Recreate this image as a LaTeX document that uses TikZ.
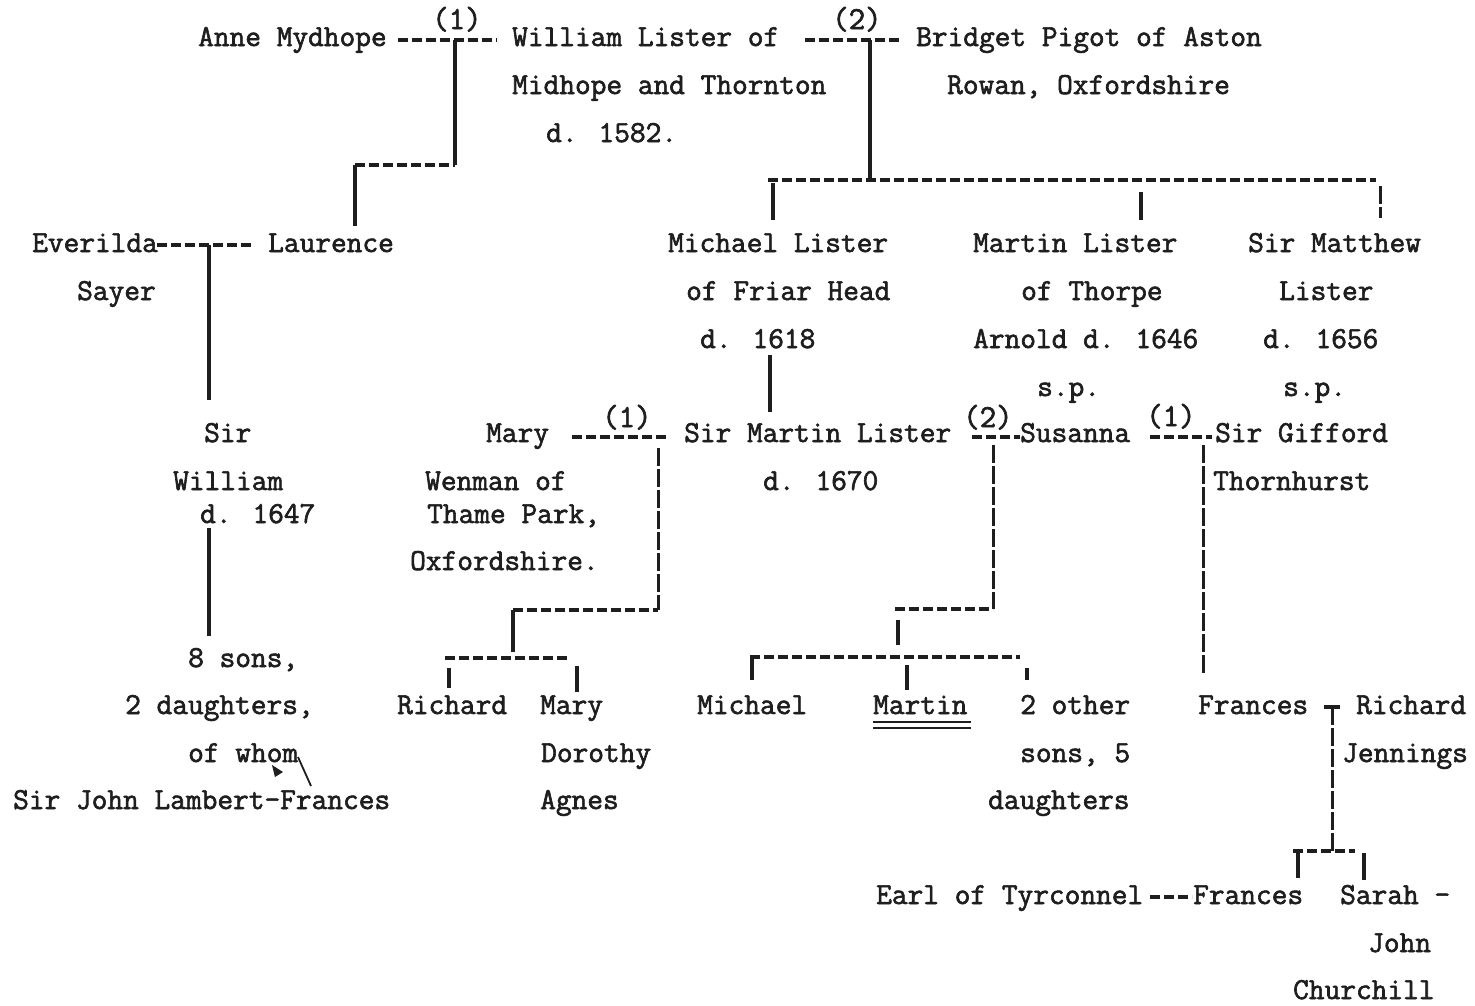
\documentclass[tikz,border=0pt]{standalone}
\usepackage{fontspec}
\newfontfamily\tw[FakeBold=2]{Latin Modern Mono}
\definecolor{ink}{HTML}{1E1E1E}
\tikzset{
  txt/.style={anchor=base west, inner sep=0pt, font=\tw\fontsize{30.5}{32}\selectfont, text=ink},
  num/.style={anchor=base west, inner sep=0pt, font=\tw\fontsize{32}{34}\selectfont, text=ink},
  hline/.style={draw=ink, line width=3.2pt, dash pattern=on 10pt off 4pt},
  vline/.style={draw=ink, line width=3.2pt},
  vdash/.style={draw=ink, line width=3pt, dash pattern=on 18pt off 3pt},
  uline/.style={draw=ink, line width=2pt}
}
\begin{document}
\begin{tikzpicture}[x=1pt,y=-1pt]
\fill[white] (0,0) rectangle (1475,1005);
\useasboundingbox (0,0) rectangle (1475,1005);
% ---- row 1-3
\node[txt] (anne) at (198,46) {Anne Mydhope};
\node[txt] (wl1) at (512,46) {William Lister of};
\node[txt] (bp1) at (916,46) {Bridget Pigot of Aston};
\node[num] (m1) at (432,29) {(1)};
\node[num] (m2) at (832,29) {(2)};
\node[txt] (wl2) at (512,94) {Midhope and Thornton};
\node[txt] (bp2) at (947,94) {Rowan, Oxfordshire};
\node[txt] (wl3) at (546,142) {d. 1582.};
% ---- rows 4-7
\node[txt] (ev1) at (32,252) {Everilda};
\node[txt] (lau) at (268,252) {Laurence};
\node[txt] (ml1) at (668,252) {Michael Lister};
\node[txt] (mt1) at (973,252) {Martin Lister};
\node[txt] (sm1) at (1248,252) {Sir Matthew};
\node[txt] (ev2) at (77,300) {Sayer};
\node[txt] (ml2) at (686,300) {of Friar Head};
\node[txt] (mt2) at (1021,300) {of Thorpe};
\node[txt] (sm2) at (1279,300) {Lister};
\node[txt] (ml3) at (700,348) {d. 1618};
\node[txt] (mt3) at (973,348) {Arnold d. 1646};
\node[txt] (sm3) at (1263,348) {d. 1656};
\node[txt] (mt4) at (1037,396) {s.p.};
\node[txt] (sm4) at (1283,396) {s.p.};
% ---- rows 8-11
\node[txt] (sw1) at (204,442) {Sir};
\node[txt] (mw1) at (486,442) {Mary};
\node[txt] (sml1) at (684,442) {Sir Martin Lister};
\node[txt] (sus) at (1020,442) {Susanna};
\node[txt] (sg1) at (1215,442) {Sir Gifford};
\node[num] (m3) at (602,427) {(1)};
\node[num] (m4) at (963,427) {(2)};
\node[num] (m5) at (1146,426) {(1)};
\node[txt] (sw2) at (173,490) {William};
\node[txt] (mw2) at (425,490) {Wenman of};
\node[txt] (sml2) at (763,490) {d. 1670};
\node[txt] (sg2) at (1213,490) {Thornhurst};
\node[txt] (sw3) at (200,523) {d. 1647};
\node[txt] (mw3) at (427,523) {Thame Park,};
\node[txt] (mw4) at (410,570) {Oxfordshire.};
% ---- rows 12-15
\node[txt] (ss1) at (188,667) {8 sons,};
\node[txt] (ss2) at (125,714) {2 daughters,};
\node[txt] (ric) at (397,714) {Richard};
\node[txt] (mary2) at (540,714) {Mary};
\node[txt] (mic) at (697,714) {Michael};
\node[txt] (mar) at (873,714) {Martin};
\node[txt] (oth1) at (1020,714) {2 other};
\node[txt] (fr1) at (1198,714) {Frances};
\node[txt] (rj1) at (1356,714) {Richard};
\node[txt] (ss3) at (188,762) {of whom};
\node[txt] (dor) at (541,762) {Dorothy};
\node[txt] (oth2) at (1020,762) {sons, 5};
\node[txt] (rj2) at (1342,762) {Jennings};
\node[txt] (sjl) at (13,809) {Sir John Lambert-Frances};
\node[txt] (agn) at (540,809) {Agnes};
\node[txt] (oth3) at (988,809) {daughters};
% ---- rows 16-18
\node[txt] (earl) at (876,904) {Earl of Tyrconnel};
\node[txt] (fr2) at (1193,904) {Frances};
\node[txt] (sar) at (1340,904) {Sarah -};
\node[txt] (jc1) at (1368,952) {John};
\node[txt] (jc2) at (1293,999) {Churchill};
% ---- junction coordinates
\coordinate (a1) at (398,40);  \coordinate (a2) at (497,40);
\coordinate (a3) at (455,40);  \coordinate (a4) at (455,165);
\coordinate (a5) at (355,165); \coordinate (a6) at (355,226);
\coordinate (b1) at (805,40);  \coordinate (b2) at (900,40);
\coordinate (b3) at (870,40);  \coordinate (b4) at (870,180);
\coordinate (c1) at (768,180); \coordinate (c2) at (1376,180);
\coordinate (c3) at (773,183); \coordinate (c4) at (773,220);
\coordinate (c5) at (1141,192); \coordinate (c6) at (1141,220);
\coordinate (c7) at (1380,186); \coordinate (c8) at (1380,218);
\coordinate (e1) at (157,245); \coordinate (e2) at (252,245);
\coordinate (e3) at (209,245); \coordinate (e4) at (209,400);
\coordinate (f1) at (770,355); \coordinate (f2) at (770,412);
\coordinate (g1) at (572,437); \coordinate (g2) at (667,437);
\coordinate (g3) at (658,448); \coordinate (g4) at (658,610);
\coordinate (g5) at (513,610); \coordinate (g6) at (513,652);
\coordinate (g7) at (445,658); \coordinate (g8) at (570,658);
\coordinate (g9) at (449,668); \coordinate (g10) at (449,688);
\coordinate (g11) at (577,666); \coordinate (g12) at (577,692);
\coordinate (h1) at (972,437); \coordinate (h2) at (1020,437);
\coordinate (h3) at (993,445); \coordinate (h4) at (993,609);
\coordinate (h5) at (895,609); \coordinate (h6) at (898,620);
\coordinate (h7) at (898,645); \coordinate (h8) at (750,657);
\coordinate (h9) at (1020,657); \coordinate (h10) at (752,657);
\coordinate (h11) at (752,680); \coordinate (h12) at (907,665);
\coordinate (h13) at (907,690); \coordinate (h14) at (1027,668);
\coordinate (h15) at (1027,680);
\coordinate (k1) at (1150,437); \coordinate (k2) at (1212,437);
\coordinate (k3) at (1203,445); \coordinate (k4) at (1203,675);
\coordinate (s1) at (209,528); \coordinate (s2) at (209,636);
\coordinate (r1) at (1324,707); \coordinate (r2) at (1340,707);
\coordinate (r3) at (1332,707); \coordinate (r4) at (1332,851);
\coordinate (r5) at (1293,851); \coordinate (r6) at (1355,851);
\coordinate (r7) at (1298,851); \coordinate (r8) at (1298,878);
\coordinate (r9) at (1364,853); \coordinate (r10) at (1364,880);
\coordinate (t1) at (1150,897); \coordinate (t2) at (1192,897);
\coordinate (u1) at (873,722); \coordinate (u2) at (971,722);
\coordinate (u3) at (873,728); \coordinate (u4) at (971,728);
\coordinate (w1) at (298,757); \coordinate (w2) at (311,786);
% ---- connectors
\draw[hline] (a1) -- (a2);
\draw[vline] (a3) -- (a4);
\draw[hline] (a5) -- (a4);
\draw[vline] (a5) -- (a6);
\draw[hline] (b1) -- (b2);
\draw[vline] (b3) -- (b4);
\draw[hline] (c1) -- (c2);
\draw[vline] (c3) -- (c4);
\draw[vline] (c5) -- (c6);
\draw[vdash] (c7) -- (c8);
\draw[hline] (e1) -- (e2);
\draw[vline] (e3) -- (e4);
\draw[vline] (f1) -- (f2);
\draw[hline] (g1) -- (g2);
\draw[vdash] (g3) -- (g4);
\draw[hline] (g5) -- (g4);
\draw[vline] (g5) -- (g6);
\draw[hline] (g7) -- (g8);
\draw[vline] (g9) -- (g10);
\draw[vline] (g11) -- (g12);
\draw[hline] (h1) -- (h2);
\draw[vdash] (h3) -- (h4);
\draw[hline] (h5) -- (h4);
\draw[vline] (h6) -- (h7);
\draw[hline] (h8) -- (h9);
\draw[vline] (h10) -- (h11);
\draw[vline] (h12) -- (h13);
\draw[vline] (h14) -- (h15);
\draw[hline] (k1) -- (k2);
\draw[vdash] (k3) -- (k4);
\draw[vline] (s1) -- (s2);
\draw[vline] (r1) -- (r2);
\draw[vdash] (r3) -- (r4);
\draw[hline] (r5) -- (r6);
\draw[vline] (r7) -- (r8);
\draw[vline] (r9) -- (r10);
\draw[hline] (t1) -- (t2);
\draw[uline] (u1) -- (u2);
\draw[uline] (u3) -- (u4);
\draw[draw=ink, line width=1.8pt] (w1) -- (w2);
\fill[ink] (272,765) -- (283,772) -- (275,777) -- cycle;
\end{tikzpicture}
\end{document}
